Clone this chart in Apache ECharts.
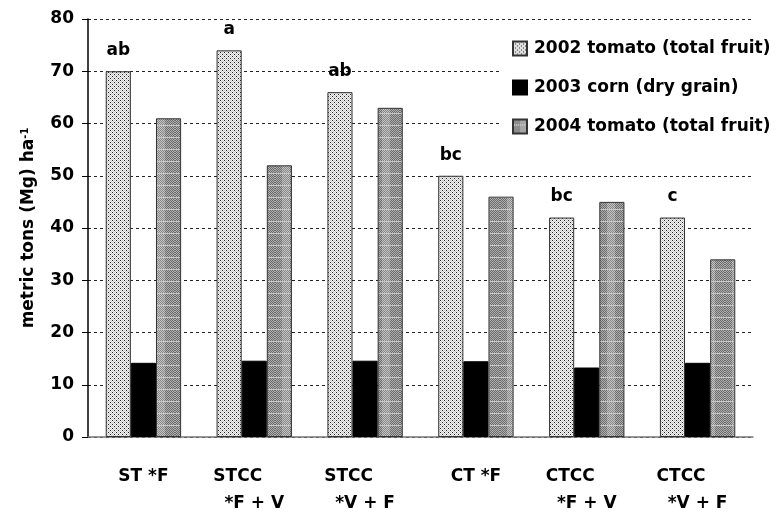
<!DOCTYPE html>
<html>
<head>
<meta charset="utf-8">
<script src="https://cdn.jsdelivr.net/npm/echarts@6/dist/echarts.min.js"></script>
<style>
  html, body { margin: 0; padding: 0; background: #fff; }
  #chart { width: 784px; height: 512px; }
</style>
</head>
<body>
<div id="chart"></div>
<script>
const categories = [
  ['ST *F', ''],
  ['STCC', '*F + V'],
  ['STCC', '*V + F'],
  ['CT *F', ''],
  ['CTCC', '*F + V'],
  ['CTCC', '*V + F'],
];
const seriesNames = ['2002 tomato (total fruit)', '2003 corn (dry grain)', '2004 tomato (total fruit)'];
const tomato2002 = [70, 74, 66, 50, 42, 42];
const corn2003 = [14.2, 14.6, 14.6, 14.5, 13.3, 14.2];
const tomato2004 = [61, 52, 63, 46, 45, 34];
const letters = ['ab', 'a', 'ab', 'bc', 'bc', 'c'];

// fill patterns like the old spreadsheet hatching
function dotPattern() {
  const c = document.createElement('canvas');
  c.width = 4; c.height = 4;
  const g = c.getContext('2d');
  for (let y = 0; y < 4; y++) {
    for (let x = 0; x < 4; x++) {
      g.fillStyle = (x + y) % 2 ? '#f4f4f4' : '#c8c8c8';
      g.fillRect(x, y, 1, 1);
    }
  }
  g.fillStyle = '#222';
  g.fillRect(0, 0, 1, 1);
  g.fillRect(2, 2, 1, 1);
  return c;
}

function plaidPattern() {
  const c = document.createElement('canvas');
  c.width = 25; c.height = 12;
  const g = c.getContext('2d');
  for (let y = 0; y < 12; y++) {
    for (let x = 0; x < 25; x++) {
      let px = (x + y) % 2 ? '#b0b0b0' : '#6a6a6a';
      if (x >= 7 && x <= 14) px = (x + y) % 2 ? '#c4c4c4' : '#888';
      if (y === 5) px = '#c8c8c8';
      g.fillStyle = px;
      g.fillRect(x, y, 1, 1);
    }
  }
  return c;
}

const font = '"DejaVu Sans", Verdana, sans-serif';
const txt = { fontFamily: font, fontWeight: 'bold', fontSize: 17, color: '#000' };
const chart = echarts.init(document.getElementById('chart'));

chart.setOption({
  animation: false,
  backgroundColor: '#fff',
  grid: { left: 88, right: 31, top: 19, bottom: 64 },
  legend: {
    orient: 'vertical',
    left: 500,
    top: 32,
    icon: 'rect',
    backgroundColor: '#fff',
    padding: [8, 6, 10, 12],
    itemWidth: 14,
    itemHeight: 14,
    itemGap: 22,
    textStyle: Object.assign({}, txt, { padding: [0, 0, 0, 2] }),
    data: seriesNames,
  },
  xAxis: {
    type: 'category',
    data: categories.map((c) => c[0] + '|' + c[1]),
    axisLine: { lineStyle: { color: '#777', width: 1.5 } },
    axisTick: { length: 5, lineStyle: { color: '#000' } },
    axisLabel: {
      margin: 26,
      interval: 0,
      formatter: function (v) {
        const parts = v.split('|');
        if (!parts[1]) return '{a|' + parts[0] + '}';
        return '{s|' + parts[0] + '}\n{b|' + parts[1] + '}';
      },
      rich: {
        a: Object.assign({}, txt, { lineHeight: 27 }),
        s: Object.assign({}, txt, { lineHeight: 27, padding: [0, 33, 0, 0] }),
        b: Object.assign({}, txt, { lineHeight: 27 }),
      },
    },
  },
  yAxis: {
    type: 'value',
    min: 0,
    max: 80,
    interval: 10,
    name: 'metric tons (Mg) ha{sup|-1}',
    nameLocation: 'middle',
    nameGap: 50,
    nameRotate: 90,
    nameTextStyle: Object.assign({}, txt, {
      rich: { sup: Object.assign({}, txt, { fontSize: 10, verticalAlign: 'top', padding: [0, 0, 8, 0] }) },
    }),
    axisLine: { show: true, lineStyle: { color: '#000', width: 1.5 } },
    axisTick: { show: true, length: 6, lineStyle: { color: '#000' } },
    axisLabel: Object.assign({}, txt, { margin: 14 }),
    splitLine: { lineStyle: { color: '#222', type: [3, 3], width: 1 } },
  },
  series: [
    {
      name: seriesNames[0],
      type: 'bar',
      data: tomato2002,
      barGap: '0%',
      barCategoryGap: '32%',
      itemStyle: { color: { image: dotPattern(), repeat: 'repeat' }, borderColor: '#333', borderWidth: 1 },
      label: Object.assign({}, txt, {
        show: true,
        position: 'top',
        distance: 12,
        formatter: (p) => letters[p.dataIndex],
      }),
    },
    {
      name: seriesNames[1],
      type: 'bar',
      data: corn2003,
      itemStyle: { color: '#000', borderColor: '#000', borderWidth: 1 },
    },
    {
      name: seriesNames[2],
      type: 'bar',
      data: tomato2004,
      itemStyle: { color: { image: plaidPattern(), repeat: 'repeat' }, borderColor: '#333', borderWidth: 1 },
    },
  ],
});
</script>
</body>
</html>
